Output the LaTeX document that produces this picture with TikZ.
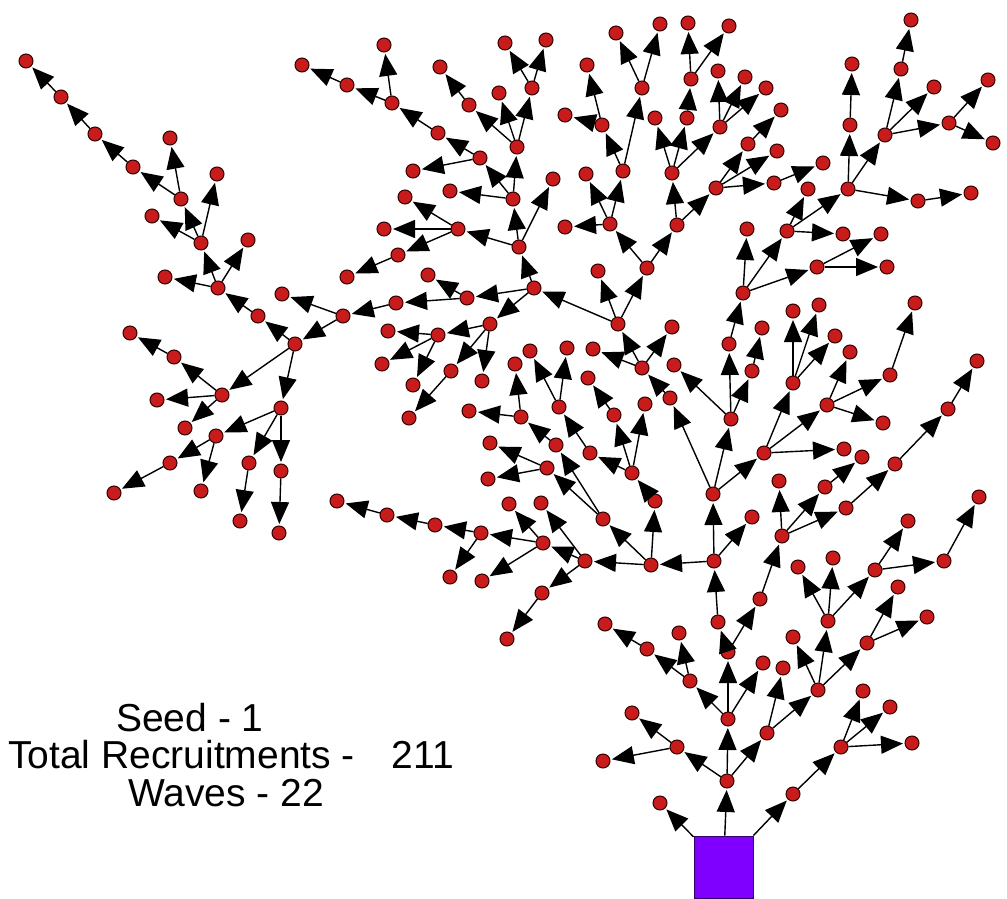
\documentclass[tikz,border=0pt]{standalone}
\usepackage{fontspec}
\setmainfont{Liberation Sans}
\usetikzlibrary{arrows.meta}
\definecolor{nodered}{RGB}{200,28,28}
\definecolor{seedpurple}{RGB}{127,0,255}
\begin{document}
\begin{tikzpicture}[x=1pt,y=-1pt,
  v/.style={circle,fill=nodered,draw=black!80!red,line width=1pt,minimum size=14pt,inner sep=0pt},
  seedbox/.style={rectangle,fill=seedpurple,draw=black!60!seedpurple,line width=0.8pt,minimum width=59pt,minimum height=62pt,inner sep=0pt},
  e/.style={draw=black,line width=1.4pt,-{Triangle[length=22pt,width=18pt]},shorten >=1.5pt},
  lbl/.style={font=\fontsize{39}{46}\selectfont,inner sep=0pt}]
\fill[white] (0,0) rectangle (1007,899);
\useasboundingbox (0,0) rectangle (1007,899);
\node[seedbox] (R) at (723.5,867) {};
\foreach \n/\x/\y in {s1/727/781, s2/728/719, s3/728/652, s4/718/622, s5/714/561, s6/713/494, s7/670/398, s8/642/368, s9/618/324, H/534/288,
a2/660/803, a3/793/794, a4/841/747, a5/863/691, a6/890/707, a7/912/743,
b2/677/747, b3/767/733, b4/632/713, b5/603/761, b6/783/668, b7/818/690, b8/793/637, b9/828/621, b10/867/643, b11/798/567, b12/833/558, b13/875/570, b14/908/521, b15/944/561, b16/979/497, b17/898/587, b18/927/617,
c1/690/681, c2/763/663, c3/647/649, c4/679/633, c5/605/624, c6/760/599, c7/782/536, c8/779/481, c9/825/487, c10/846/508, c11/862/457, c12/895/464, c13/948/409, c14/977/361,
d1/651/565, d2/752/517, d3/585/561, d4/655/501, d5/603/519, d6/543/543, d7/542/593, d8/541/503, d9/509/504, d10/481/533, d11/482/581, d12/435/525, d13/450/577, d14/387/515, d15/337/501, d16/507/639, d17/632/473, d18/614/415, d19/645/404, d20/590/453, d21/588/378, d22/559/407, d23/530/351, d24/567/348, d25/556/445, d26/547/468, d27/521/417, d28/515/364, d29/469/411, d30/490/443, d31/488/479,
e1/731/419, e2/764/453, e3/729/344, e4/752/371, e5/674/365, e6/743/293, e7/762/328, e8/747/229, e9/787/231, e10/817/267, e11/808/189, e12/848/189, e13/843/234, e14/850/125, e15/885/135, e16/918/201, e17/852/64, e18/901/69, e19/934/87, e20/949/123, e21/911/20, e22/988/80, e23/993/143, e24/971/193, e25/881/234, e26/887/267,
f1/793/383, f2/827/405, f3/844/449, f4/793/311, f5/819/305, f6/835/336, f7/850/352, f8/890/375, f9/883/423, f10/915/303,
g1/593/349, g2/672/327, g3/598/271, g4/647/268, g5/610/224, g6/677/225, g7/565/227, g8/586/174, g9/623/171, g10/602/125, g11/642/88, g12/565/115, g13/587/65, g14/616/33, g15/660/24, g16/672/173, g17/716/188, g18/655/118, g19/687/118, g20/720/127, g21/691/79, g22/688/23, g23/729/26, g24/718/71, g25/745/77, g26/766/88, g27/748/144, g28/777/151, g29/774/183, g30/781/110, g31/823/163,
h1/519/247, h2/467/298, h3/490/324, h4/513/199, h5/553/179, h6/458/229, h7/517/147, h8/480/158, h9/450/191, h10/532/88, h11/499/93, h12/469/105, h13/505/43, h14/546/40, h15/440/67, h16/438/133, h17/413/171, h18/392/103, h19/384/45, h20/347/85, h21/302/65, h22/405/197, h23/384/229, h24/398/255, h25/347/277, h26/428/275, h27/396/303, h28/343/316, h29/282/294, h30/295/344, h31/438/335, h32/451/371, h33/482/381, h34/388/331, h35/382/364, h36/413/385, h37/409/418,
i1/258/316, i2/222/395, i3/281/408, i4/218/288, i5/201/243, i6/248/240, i7/165/277, i8/181/199, i9/217/174, i10/152/216, i11/133/167, i12/170/138, i13/95/134, i14/61/97, i15/26/61, i16/174/357, i17/157/400, i18/185/428, i19/130/333, i20/216/436, i21/249/463, i22/281/471, i23/170/463, i24/201/491, i25/114/493, i26/240/521, i27/279/533}
  \node[v] (\n) at (\x,\y) {};
\foreach \a/\b in {R/s1, R/a2, R/a3, a3/a4, a4/a5, a4/a6, a4/a7,
s1/s2, s1/b2, s1/b3, b2/b4, b2/b5, b3/b6, b3/b7, b7/b8, b7/b9, b7/b10, b9/b11, b9/b12, b9/b13, b13/b14, b13/b15, b15/b16, b10/b17, b10/b18,
s2/s3, s2/c1, s2/c2, c1/c3, c1/c4, c3/c5, s3/s4, s3/c6, c6/c7, c7/c8, c7/c9, c7/c10, c9/c11, c10/c12, c12/c13, c13/c14,
s4/s5, s5/s6, s5/d1, s5/d2, d1/d3, d1/d4, d1/d5, d3/d6, d3/d7, d3/d8, d6/d9, d6/d10, d6/d11, d10/d12, d10/d13, d12/d14, d14/d15, d7/d16, d4/d17, d17/d18, d17/d19, d17/d20, d18/d21, d20/d22, d22/d23, d22/d24, d5/d25, d5/d26, d25/d27, d27/d28, d27/d29, d26/d30, d26/d31,
s6/s7, s6/e1, s6/e2, e1/e3, e1/e4, e1/e5, e3/e6, e4/e7, e6/e8, e6/e9, e6/e10, e9/e11, e9/e12, e9/e13, e12/e14, e12/e15, e12/e16, e14/e17, e15/e18, e15/e19, e15/e20, e18/e21, e20/e22, e20/e23, e16/e24, e10/e25, e10/e26,
e2/f1, e2/f2, e2/f3, f1/f4, f1/f5, f1/f6, f2/f7, f2/f8, f2/f9, f8/f10,
s7/s8, s8/s9, s8/g1, s8/g2, s9/H, s9/g3, s9/g4, g4/g5, g4/g6, g5/g7, g5/g8, g5/g9, g9/g10, g9/g11, g10/g12, g10/g13, g11/g14, g11/g15, g6/g16, g6/g17, g16/g18, g16/g19, g16/g20, g19/g21, g21/g22, g21/g23, g20/g24, g20/g25, g20/g26, g17/g27, g17/g28, g17/g29, g27/g30, g29/g31,
H/h1, H/h2, H/h3, h1/h4, h1/h5, h1/h6, h4/h7, h4/h8, h4/h9, h7/h10, h7/h11, h7/h12, h10/h13, h10/h14, h12/h15, h8/h16, h8/h17, h16/h18, h18/h19, h18/h20, h20/h21, h6/h22, h6/h23, h6/h24, h24/h25, h2/h26, h2/h27, h27/h28, h28/h29, h28/h30, h3/h31, h3/h32, h3/h33, h31/h34, h31/h35, h31/h36, h32/h37,
h30/i1, h30/i2, h30/i3, i1/i4, i4/i5, i4/i6, i4/i7, i5/i8, i5/i9, i5/i10, i8/i11, i8/i12, i11/i13, i13/i14, i14/i15, i2/i16, i2/i17, i2/i18, i16/i19, i3/i20, i3/i21, i3/i22, i20/i23, i20/i24, i23/i25, i21/i26, i22/i27}
  \draw[e] (\a) -- (\b);
\node[lbl,anchor=base] (seed) at (190,731) {Seed - 1};
\node[lbl,anchor=base west] (total) at (8,768) {Total Recruitments -\hspace{0.95em}211};
\node[lbl,anchor=base] (waves) at (226,806) {Waves - 22};
\end{tikzpicture}
\end{document}
